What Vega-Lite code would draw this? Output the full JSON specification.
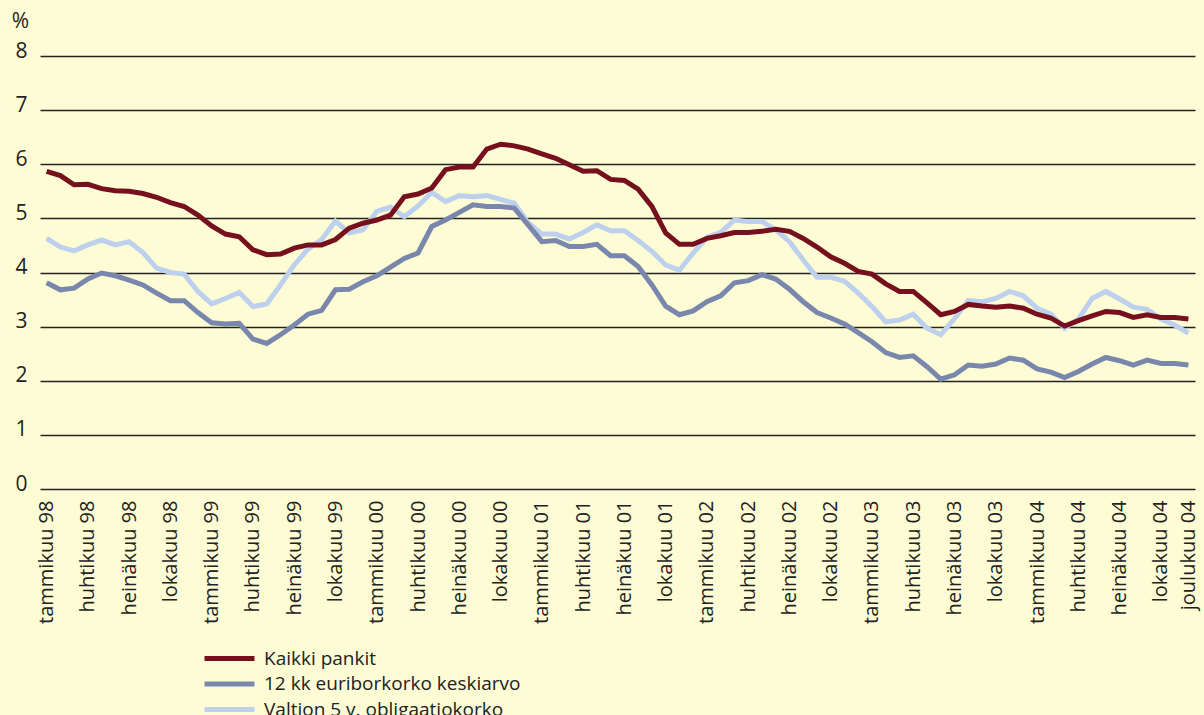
{
  "$schema": "https://vega.github.io/schema/vega-lite/v6.json",
  "width": 1155,
  "height": 433,
  "autosize": {"type": "none"},
  "padding": {"left": 40, "top": 56, "right": 9, "bottom": 226},
  "background": "#FEFCD5",
  "config": {"view": {"stroke": null}, "font": "Open Sans"},
  "data": {
    "values": [
      {"kk": "tammikuu 98", "a": 5.87, "b": 3.81, "c": 4.63},
      {"kk": "helmikuu 98", "a": 5.79, "b": 3.68, "c": 4.47},
      {"kk": "maaliskuu 98", "a": 5.62, "b": 3.71, "c": 4.40},
      {"kk": "huhtikuu 98", "a": 5.63, "b": 3.88, "c": 4.51},
      {"kk": "toukokuu 98", "a": 5.55, "b": 3.99, "c": 4.60},
      {"kk": "kesäkuu 98", "a": 5.51, "b": 3.94, "c": 4.51},
      {"kk": "heinäkuu 98", "a": 5.50, "b": 3.86, "c": 4.57},
      {"kk": "elokuu 98", "a": 5.46, "b": 3.77, "c": 4.37},
      {"kk": "syyskuu 98", "a": 5.39, "b": 3.62, "c": 4.08},
      {"kk": "lokakuu 98", "a": 5.29, "b": 3.48, "c": 4.00},
      {"kk": "marraskuu 98", "a": 5.22, "b": 3.48, "c": 3.97},
      {"kk": "joulukuu 98", "a": 5.06, "b": 3.26, "c": 3.65},
      {"kk": "tammikuu 99", "a": 4.86, "b": 3.07, "c": 3.42},
      {"kk": "helmikuu 99", "a": 4.71, "b": 3.05, "c": 3.52},
      {"kk": "maaliskuu 99", "a": 4.66, "b": 3.06, "c": 3.63},
      {"kk": "huhtikuu 99", "a": 4.42, "b": 2.77, "c": 3.37},
      {"kk": "toukokuu 99", "a": 4.33, "b": 2.69, "c": 3.42},
      {"kk": "kesäkuu 99", "a": 4.34, "b": 2.85, "c": 3.77},
      {"kk": "heinäkuu 99", "a": 4.45, "b": 3.03, "c": 4.14},
      {"kk": "elokuu 99", "a": 4.51, "b": 3.23, "c": 4.43},
      {"kk": "syyskuu 99", "a": 4.51, "b": 3.30, "c": 4.61},
      {"kk": "lokakuu 99", "a": 4.61, "b": 3.68, "c": 4.95},
      {"kk": "marraskuu 99", "a": 4.82, "b": 3.69, "c": 4.73},
      {"kk": "joulukuu 99", "a": 4.91, "b": 3.83, "c": 4.79},
      {"kk": "tammikuu 00", "a": 4.97, "b": 3.94, "c": 5.13},
      {"kk": "helmikuu 00", "a": 5.06, "b": 4.10, "c": 5.21},
      {"kk": "maaliskuu 00", "a": 5.40, "b": 4.26, "c": 5.03},
      {"kk": "huhtikuu 00", "a": 5.45, "b": 4.36, "c": 5.23},
      {"kk": "toukokuu 00", "a": 5.56, "b": 4.85, "c": 5.48},
      {"kk": "kesäkuu 00", "a": 5.90, "b": 4.97, "c": 5.31},
      {"kk": "heinäkuu 00", "a": 5.95, "b": 5.11, "c": 5.42},
      {"kk": "elokuu 00", "a": 5.95, "b": 5.25, "c": 5.40},
      {"kk": "syyskuu 00", "a": 6.28, "b": 5.22, "c": 5.42},
      {"kk": "lokakuu 00", "a": 6.37, "b": 5.22, "c": 5.35},
      {"kk": "marraskuu 00", "a": 6.34, "b": 5.19, "c": 5.28},
      {"kk": "joulukuu 00", "a": 6.28, "b": 4.88, "c": 4.92},
      {"kk": "tammikuu 01", "a": 6.19, "b": 4.57, "c": 4.71},
      {"kk": "helmikuu 01", "a": 6.11, "b": 4.59, "c": 4.71},
      {"kk": "maaliskuu 01", "a": 5.99, "b": 4.48, "c": 4.62},
      {"kk": "huhtikuu 01", "a": 5.87, "b": 4.48, "c": 4.74},
      {"kk": "toukokuu 01", "a": 5.88, "b": 4.52, "c": 4.88},
      {"kk": "kesäkuu 01", "a": 5.72, "b": 4.31, "c": 4.77},
      {"kk": "heinäkuu 01", "a": 5.70, "b": 4.31, "c": 4.77},
      {"kk": "elokuu 01", "a": 5.54, "b": 4.11, "c": 4.59},
      {"kk": "syyskuu 01", "a": 5.22, "b": 3.77, "c": 4.39},
      {"kk": "lokakuu 01", "a": 4.73, "b": 3.38, "c": 4.14},
      {"kk": "marraskuu 01", "a": 4.52, "b": 3.22, "c": 4.04},
      {"kk": "joulukuu 01", "a": 4.52, "b": 3.29, "c": 4.36},
      {"kk": "tammikuu 02", "a": 4.63, "b": 3.46, "c": 4.65},
      {"kk": "helmikuu 02", "a": 4.68, "b": 3.57, "c": 4.74},
      {"kk": "maaliskuu 02", "a": 4.74, "b": 3.81, "c": 4.97},
      {"kk": "huhtikuu 02", "a": 4.74, "b": 3.85, "c": 4.94},
      {"kk": "toukokuu 02", "a": 4.76, "b": 3.96, "c": 4.94},
      {"kk": "kesäkuu 02", "a": 4.80, "b": 3.88, "c": 4.79},
      {"kk": "heinäkuu 02", "a": 4.76, "b": 3.69, "c": 4.57},
      {"kk": "elokuu 02", "a": 4.63, "b": 3.46, "c": 4.23},
      {"kk": "syyskuu 02", "a": 4.47, "b": 3.26, "c": 3.91},
      {"kk": "lokakuu 02", "a": 4.29, "b": 3.16, "c": 3.91},
      {"kk": "marraskuu 02", "a": 4.17, "b": 3.05, "c": 3.84},
      {"kk": "joulukuu 02", "a": 4.02, "b": 2.89, "c": 3.62},
      {"kk": "tammikuu 03", "a": 3.97, "b": 2.72, "c": 3.37},
      {"kk": "helmikuu 03", "a": 3.79, "b": 2.52, "c": 3.09},
      {"kk": "maaliskuu 03", "a": 3.65, "b": 2.43, "c": 3.12},
      {"kk": "huhtikuu 03", "a": 3.65, "b": 2.46, "c": 3.23},
      {"kk": "toukokuu 03", "a": 3.44, "b": 2.26, "c": 2.97},
      {"kk": "kesäkuu 03", "a": 3.22, "b": 2.03, "c": 2.85},
      {"kk": "heinäkuu 03", "a": 3.28, "b": 2.11, "c": 3.15},
      {"kk": "elokuu 03", "a": 3.41, "b": 2.29, "c": 3.48},
      {"kk": "syyskuu 03", "a": 3.38, "b": 2.27, "c": 3.46},
      {"kk": "lokakuu 03", "a": 3.36, "b": 2.31, "c": 3.52},
      {"kk": "marraskuu 03", "a": 3.38, "b": 2.42, "c": 3.65},
      {"kk": "joulukuu 03", "a": 3.34, "b": 2.38, "c": 3.57},
      {"kk": "tammikuu 04", "a": 3.23, "b": 2.22, "c": 3.34},
      {"kk": "helmikuu 04", "a": 3.16, "b": 2.16, "c": 3.23},
      {"kk": "maaliskuu 04", "a": 3.01, "b": 2.06, "c": 2.97},
      {"kk": "huhtikuu 04", "a": 3.11, "b": 2.17, "c": 3.14},
      {"kk": "toukokuu 04", "a": 3.20, "b": 2.31, "c": 3.52},
      {"kk": "kesäkuu 04", "a": 3.28, "b": 2.43, "c": 3.65},
      {"kk": "heinäkuu 04", "a": 3.26, "b": 2.37, "c": 3.51},
      {"kk": "elokuu 04", "a": 3.17, "b": 2.29, "c": 3.36},
      {"kk": "syyskuu 04", "a": 3.22, "b": 2.38, "c": 3.32},
      {"kk": "lokakuu 04", "a": 3.17, "b": 2.32, "c": 3.14},
      {"kk": "marraskuu 04", "a": 3.17, "b": 2.32, "c": 3.03},
      {"kk": "joulukuu 04", "a": 3.14, "b": 2.29, "c": 2.88}
    ]
  },
  "transform": [{"fold": ["c", "b", "a"], "as": ["sarja", "arvo"]}],
  "mark": {"type": "line", "strokeWidth": 5},
  "encoding": {
    "x": {
      "field": "kk",
      "type": "ordinal",
      "sort": null,
      "scale": {"type": "point", "padding": 0.48},
      "axis": {
        "values": ["tammikuu 98", "huhtikuu 98", "heinäkuu 98", "lokakuu 98", "tammikuu 99", "huhtikuu 99", "heinäkuu 99", "lokakuu 99", "tammikuu 00", "huhtikuu 00", "heinäkuu 00", "lokakuu 00", "tammikuu 01", "huhtikuu 01", "heinäkuu 01", "lokakuu 01", "tammikuu 02", "huhtikuu 02", "heinäkuu 02", "lokakuu 02", "tammikuu 03", "huhtikuu 03", "heinäkuu 03", "lokakuu 03", "tammikuu 04", "huhtikuu 04", "heinäkuu 04", "lokakuu 04", "joulukuu 04"],
        "labelAngle": -90,
        "domain": false,
        "ticks": false,
        "grid": false,
        "title": null,
        "labelFontSize": 20,
        "labelColor": "#222222",
        "labelPadding": 11,
        "labelOverlap": false,
        "labelLimit": 300,
        "labelFont": "Open Sans"
      }
    },
    "y": {
      "field": "arvo",
      "type": "quantitative",
      "scale": {"domain": [0, 8], "nice": false},
      "axis": {
        "values": [0, 1, 2, 3, 4, 5, 6, 7, 8],
        "domain": false,
        "ticks": false,
        "grid": true,
        "gridColor": "#222222",
        "gridWidth": 1.3,
        "labelFontSize": 21,
        "labelColor": "#222222",
        "labelFont": "Open Sans",
        "labelPadding": 13,
        "labelBaseline": "alphabetic",
        "labelOffset": 1,
        "title": "%",
        "titleAngle": 0,
        "titleX": -20,
        "titleY": -35,
        "titleAlign": "center",
        "titleBaseline": "middle",
        "titleFontSize": 21,
        "titleFontWeight": "normal",
        "titleColor": "#222222",
        "titleFont": "Open Sans"
      }
    },
    "color": {
      "field": "sarja",
      "type": "nominal",
      "scale": {"domain": ["a", "b", "c"], "range": ["#76101E", "#7A87AD", "#BDD0EE"]},
      "legend": {
        "orient": "none",
        "legendX": 177,
        "legendY": 590,
        "title": null,
        "direction": "vertical",
        "symbolType": "M-2.5,0H2.5",
        "symbolSize": 400,
        "symbolStrokeWidth": 5,
        "labelOffset": 22,
        "labelFontSize": 19,
        "labelColor": "#222222",
        "labelFont": "Open Sans",
        "labelLimit": 500,
        "rowPadding": 2.5,
        "padding": 0,
        "labelExpr": "datum.label == 'a' ? 'Kaikki pankit' : datum.label == 'b' ? '12 kk euriborkorko keskiarvo' : 'Valtion 5 v. obligaatiokorko'"
      }
    }
  }
}
